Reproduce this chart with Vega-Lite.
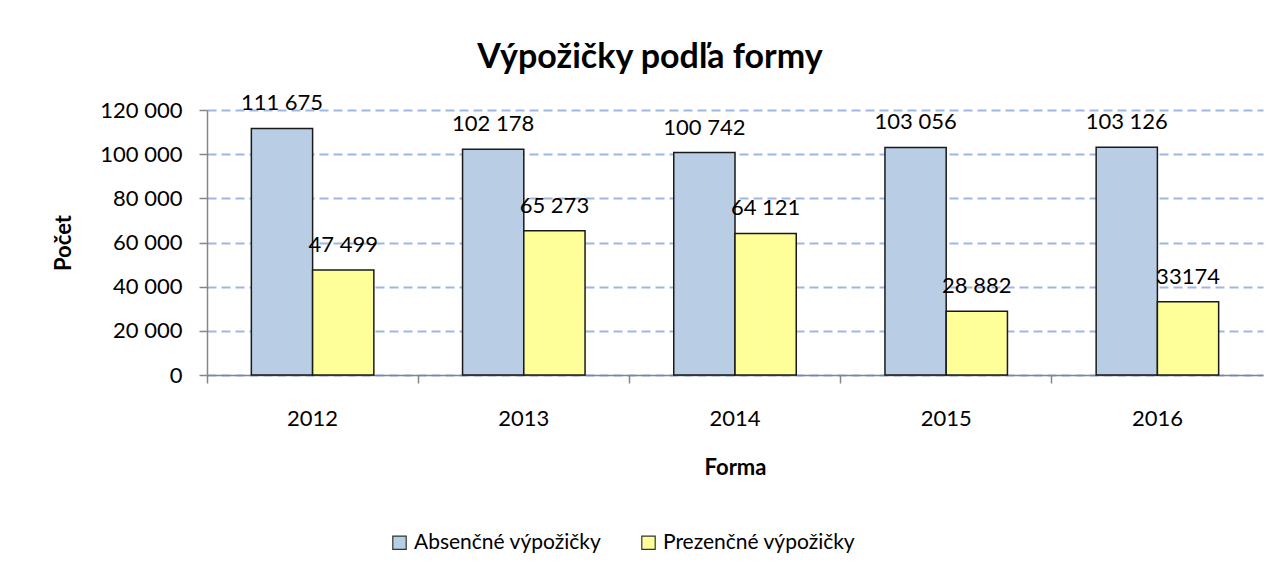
{
  "$schema": "https://vega.github.io/schema/vega-lite/v6.json",
  "width": 1056,
  "height": 265,
  "autosize": {"type": "none"},
  "padding": {"left": 207, "top": 110, "right": 19, "bottom": 200},
  "background": "white",
  "title": {
    "text": "Výpožičky podľa formy",
    "font": "Lato",
    "fontSize": 34,
    "fontWeight": "bold",
    "color": "#000000",
    "anchor": "middle",
    "dx": -85,
    "offset": 17
  },
  "config": {
    "locale": {"number": {"decimal": ",", "thousands": " ", "grouping": [3], "currency": ["", " €"]}},
    "view": {"stroke": null},
    "font": "Lato"
  },
  "data": {
    "values": [
      {"rok": "2012", "forma": "Absenčné výpožičky", "pocet": 111675, "label": "111 675"},
      {"rok": "2012", "forma": "Prezenčné výpožičky", "pocet": 47499, "label": "47 499"},
      {"rok": "2013", "forma": "Absenčné výpožičky", "pocet": 102178, "label": "102 178"},
      {"rok": "2013", "forma": "Prezenčné výpožičky", "pocet": 65273, "label": "65 273"},
      {"rok": "2014", "forma": "Absenčné výpožičky", "pocet": 100742, "label": "100 742"},
      {"rok": "2014", "forma": "Prezenčné výpožičky", "pocet": 64121, "label": "64 121"},
      {"rok": "2015", "forma": "Absenčné výpožičky", "pocet": 103056, "label": "103 056"},
      {"rok": "2015", "forma": "Prezenčné výpožičky", "pocet": 28882, "label": "28 882"},
      {"rok": "2016", "forma": "Absenčné výpožičky", "pocet": 103126, "label": "103 126"},
      {"rok": "2016", "forma": "Prezenčné výpožičky", "pocet": 33174, "label": "33174"}
    ]
  },
  "encoding": {
    "x": {
      "field": "rok",
      "type": "nominal",
      "scale": {"paddingInner": 0.42, "paddingOuter": 0.21},
      "axis": {
        "title": "Forma",
        "titleFont": "Lato",
        "titleFontSize": 22,
        "titleFontWeight": "bold",
        "titleColor": "#000000",
        "titlePadding": 28,
        "labelAngle": 0,
        "labelFont": "Lato",
        "labelFontSize": 22,
        "labelColor": "#000000",
        "labelPadding": 25,
        "bandPosition": -0.362,
        "tickSize": 8,
        "tickColor": "#868686",
        "domainColor": "#868686",
        "domainWidth": 1.5,
        "tickWidth": 1.5
      }
    },
    "xOffset": {"field": "forma", "type": "nominal", "sort": ["Absenčné výpožičky", "Prezenčné výpožičky"]},
    "y": {
      "field": "pocet",
      "type": "quantitative",
      "scale": {"domain": [0, 120000]},
      "axis": {
        "title": "Počet",
        "titleFont": "Lato",
        "titleFontSize": 22,
        "titleFontWeight": "bold",
        "titleColor": "#000000",
        "titlePadding": 24,
        "values": [0, 20000, 40000, 60000, 80000, 100000, 120000],
        "format": ",d",
        "labelFont": "Lato",
        "labelFontSize": 22,
        "labelColor": "#000000",
        "labelPadding": 17,
        "tickSize": 8,
        "tickColor": "#868686",
        "tickWidth": 1.5,
        "domainColor": "#868686",
        "domainWidth": 1.5,
        "grid": true,
        "gridColor": "#9DB7E4",
        "gridWidth": 2,
        "gridDash": [9, 5]
      }
    }
  },
  "layer": [
    {
      "mark": {"type": "bar", "stroke": "#1a1a1a", "strokeWidth": 1.5},
      "encoding": {
        "color": {
          "field": "forma",
          "type": "nominal",
          "sort": ["Absenčné výpožičky", "Prezenčné výpožičky"],
          "scale": {"domain": ["Absenčné výpožičky", "Prezenčné výpožičky"], "range": ["#B9CDE5", "#FFFF99"]},
          "legend": {
            "title": null,
            "orient": "none",
            "direction": "horizontal",
            "legendX": 182,
            "legendY": 422,
            "symbolType": "square",
            "symbolSize": 180,
            "symbolStrokeColor": "#333333",
            "symbolStrokeWidth": 1.2,
            "symbolOpacity": 1,
            "labelFont": "Lato",
            "labelFontSize": 21,
            "labelColor": "#000000",
            "labelOffset": 4,
            "columnPadding": 36,
            "labelLimit": 400
          }
        }
      }
    },
    {
      "mark": {"type": "text", "font": "Lato", "fontSize": 22, "color": "#000000", "baseline": "alphabetic", "dy": -18},
      "encoding": {
        "text": {"field": "label", "type": "nominal"}
      }
    }
  ]
}
